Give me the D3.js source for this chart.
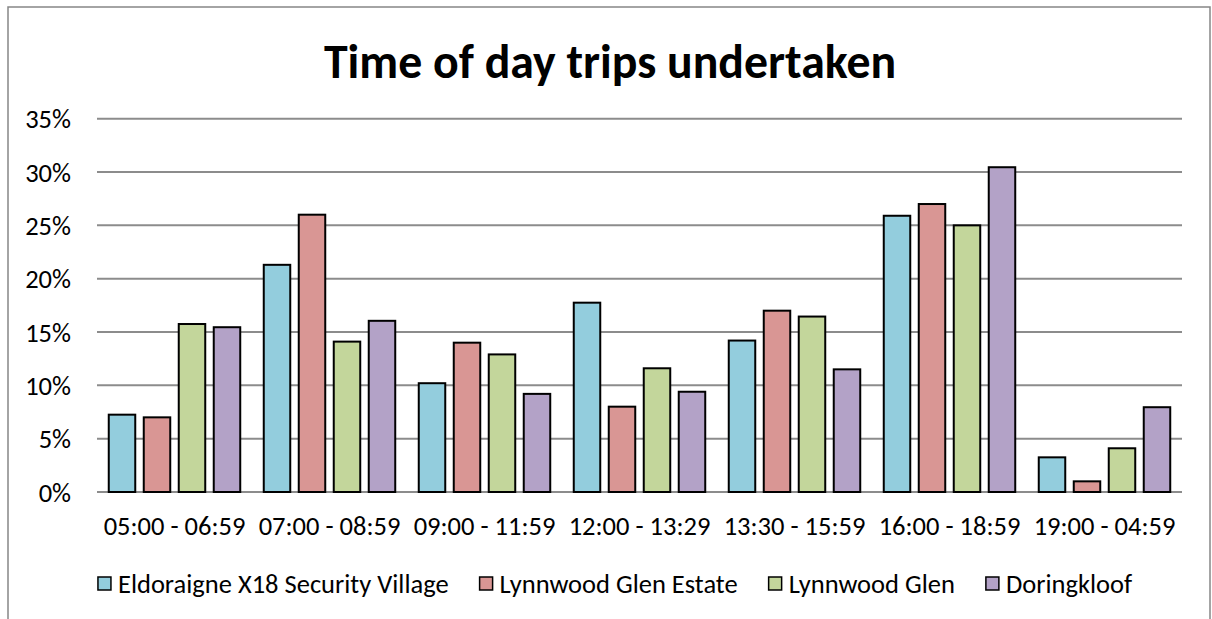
<!DOCTYPE html>
<html>
<head>
<meta charset="utf-8">
<script src="https://cdn.jsdelivr.net/npm/d3@7"></script>
<style>
  body { margin: 0; background: #fff; }
  text { font-family: Carlito, Calibri, Lato, sans-serif; fill: #000; }
</style>
</head>
<body>
<script>
var categories = ['05:00 - 06:59', '07:00 - 08:59', '09:00 - 11:59', '12:00 - 13:29',
  '13:30 - 15:59', '16:00 - 18:59', '19:00 - 04:59'];
var seriesNames = ['Eldoraigne X18 Security Village', 'Lynnwood Glen Estate', 'Lynnwood Glen', 'Doringkloof'];
var seriesColors = ['#93cddd', '#d99694', '#c3d69b', '#b3a2c7'];

// percentages per series, one value per category
var eldoraigne = [7.25, 21.3, 10.2, 17.75, 14.2, 25.9, 3.25];
var lynnwoodEstate = [7.0, 26.0, 14.0, 8.0, 17.0, 27.0, 1.0];
var lynnwoodGlen = [15.75, 14.1, 12.9, 11.6, 16.45, 25.0, 4.1];
var doringkloof = [15.45, 16.05, 9.2, 9.4, 11.5, 30.45, 7.95];
var yTicks = [0, 5, 10, 15, 20, 25, 30, 35];

var seriesValues = [eldoraigne, lynnwoodEstate, lynnwoodGlen, doringkloof];

var W = 1212, H = 619;
var plot = { left: 97, right: 1182, top: 118.7, bottom: 492 };

var svg = d3.select('body').append('svg')
  .attr('width', W)
  .attr('height', H);

// chart frame (bottom edge runs off the picture)
svg.append('rect')
  .attr('x', 8).attr('y', 7)
  .attr('width', 1202).attr('height', 660)
  .attr('fill', '#fff')
  .attr('stroke', '#868686')
  .attr('stroke-width', 1.5);

svg.append('text')
  .attr('x', 610).attr('y', 78)
  .attr('text-anchor', 'middle')
  .style('font-size', '47.8px')
  .style('font-weight', 'bold')
  .text('Time of day trips undertaken');

var x0 = d3.scaleBand()
  .domain(categories)
  .range([plot.left, plot.right])
  .paddingInner(0).paddingOuter(0);

var x1 = d3.scaleBand()
  .domain(d3.range(seriesNames.length))
  .range([0, x0.bandwidth()])
  .paddingInner(0.243)
  .paddingOuter(0.336);

var y = d3.scaleLinear()
  .domain([0, 35])
  .range([plot.bottom, plot.top]);

// gridlines
svg.append('g')
  .selectAll('line')
  .data(yTicks)
  .join('line')
  .attr('x1', plot.left).attr('x2', plot.right)
  .attr('y1', function(d) { return y(d); })
  .attr('y2', function(d) { return y(d); })
  .attr('stroke', '#8c8c8c')
  .attr('stroke-width', 2);

// y tick labels
svg.append('g')
  .selectAll('text')
  .data(yTicks)
  .join('text')
  .attr('x', 71)
  .attr('y', function(d) { return y(d); })
  .attr('dy', '0.36em')
  .attr('text-anchor', 'end')
  .style('font-size', '26.5px')
  .text(function(d) { return d + '%'; });

// bars
var groups = svg.append('g')
  .selectAll('g')
  .data(categories)
  .join('g')
  .attr('transform', function(d) { return 'translate(' + x0(d) + ',0)'; });

groups.selectAll('rect')
  .data(function(d, ci) {
    return seriesValues.map(function(vals, si) { return { s: si, v: vals[ci] }; });
  })
  .join('rect')
  .attr('x', function(d) { return x1(d.s); })
  .attr('width', x1.bandwidth())
  .attr('y', function(d) { return y(d.v); })
  .attr('height', function(d) { return y(0) - y(d.v); })
  .attr('fill', function(d) { return seriesColors[d.s]; })
  .attr('stroke', '#000')
  .attr('stroke-width', 2);

// x category labels
svg.append('g')
  .selectAll('text')
  .data(categories)
  .join('text')
  .attr('x', function(d) { return x0(d) + x0.bandwidth() / 2; })
  .attr('y', 535)
  .attr('text-anchor', 'middle')
  .style('font-size', '26.5px')
  .text(function(d) { return d; });

// legend
var legend = svg.append('g');
var items = legend.selectAll('g')
  .data(seriesNames)
  .join('g');

items.append('rect')
  .attr('x', 0).attr('y', 577)
  .attr('width', 13).attr('height', 13)
  .attr('fill', function(d, i) { return seriesColors[i]; })
  .attr('stroke', '#000')
  .attr('stroke-width', 1.5);

items.append('text')
  .attr('x', 20).attr('y', 593)
  .style('font-size', '26.5px')
  .text(function(d) { return d; });

var gap = 31;
var widths = [];
items.each(function() { widths.push(this.getBBox().width); });
var total = d3.sum(widths) + gap * (widths.length - 1);
var cx = 615 - total / 2;
items.attr('transform', function(d, i) {
  var tx = cx;
  cx += widths[i] + gap;
  return 'translate(' + tx + ',0)';
});
</script>
</body>
</html>
